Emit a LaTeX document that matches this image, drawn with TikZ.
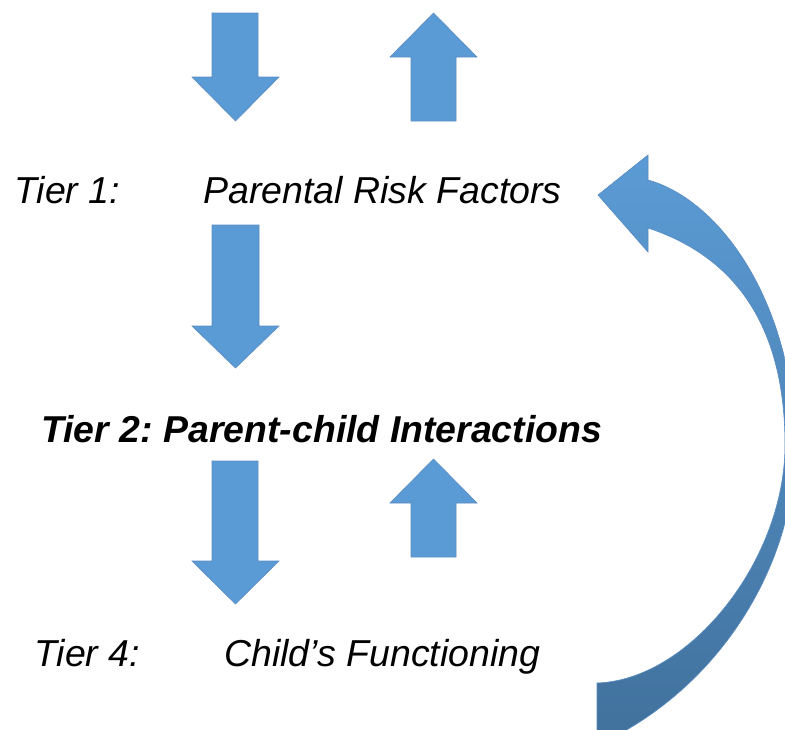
\documentclass[tikz,border=0pt]{standalone}
\usepackage{fontspec}
\setmainfont{Liberation Sans}
\definecolor{arrowblue}{HTML}{5B9BD5}
\definecolor{arrowedge}{HTML}{5A8BC2}
\definecolor{arrowdark}{HTML}{41719C}
\tikzset{
  blockarrow/.style={fill=arrowblue, draw=arrowedge, line width=0.6pt, line join=miter},
  tiertext/.style={anchor=base west, inner sep=0pt, font=\fontsize{37.5}{42}\selectfont\itshape},
  tierbold/.style={tiertext, font=\fontsize{37.4}{42}\selectfont\bfseries\itshape}
}
\begin{document}
\begin{tikzpicture}[x=1pt,y=-1pt]
\useasboundingbox (0,0) rectangle (785,729);
\fill[white] (0,0) rectangle (785,729);

% top pair of arrows
\draw[blockarrow] (212,13) -- (258,13) -- (258,77) -- (279,77) -- (235.5,121) -- (192,77) -- (212,77) -- cycle;
\draw[blockarrow] (433.5,13) -- (477,57) -- (456,57) -- (456,121) -- (411,121) -- (411,57) -- (390,57) -- cycle;

% tier 1
\node[tiertext] (t1) at (14,203) {Tier 1:};
\node[tiertext] (t1b) at (203,203) {Parental Risk Factors};

% arrow tier 1 -> tier 2
\draw[blockarrow] (212,225) -- (259,225) -- (259,326) -- (279,326) -- (235.5,368) -- (192,326) -- (212,326) -- cycle;

% tier 2
\node[tierbold] (t2) at (41,442) {Tier 2:\hspace{-3pt} Parent-child Interactions};

% arrows between tier 2 and tier 4
\draw[blockarrow] (212,461) -- (258,461) -- (258,561) -- (279,561) -- (235.5,604) -- (192,561) -- (212,561) -- cycle;
\draw[blockarrow] (433.5,459) -- (477,503) -- (456,503) -- (456,557) -- (411,557) -- (411,503) -- (390,503) -- cycle;

% tier 4
\node[tiertext] (t4) at (34,666) {Tier 4:};
\node[tiertext] (t4b) at (224,666) {Child’s Functioning};

% curved feedback arrow
\begin{scope}
\clip (0,0) rectangle (785,729);
\shadedraw[top color=arrowblue, middle color=arrowblue!92!arrowdark, bottom color=arrowdark, draw=arrowedge, line width=0.6pt]
  (598,195) -- (648,155) -- (648,180)
  .. controls (720,200) and (790,300) .. (795,435)
  .. controls (800,560) and (720,690) .. (597,745)
  -- (597,683)
  .. controls (690,680) and (785,560) .. (785,445)
  .. controls (785,320) and (730,255) .. (648,228)
  -- (648,252) -- cycle;
\end{scope}
\end{tikzpicture}
\end{document}
